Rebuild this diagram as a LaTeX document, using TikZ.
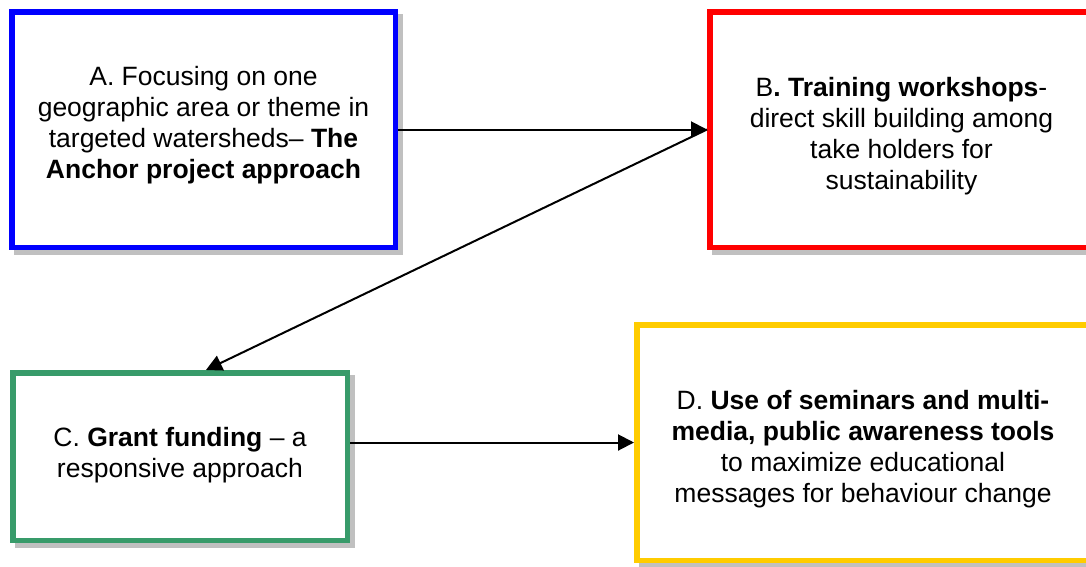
\documentclass[tikz,border=0pt]{standalone}
\usepackage{fontspec}
\setmainfont{Liberation Sans}
\usetikzlibrary{arrows.meta,backgrounds}
\definecolor{boxblue}{RGB}{0,0,255}
\definecolor{boxred}{RGB}{255,0,0}
\definecolor{boxgreen}{RGB}{56,155,106}
\definecolor{boxyellow}{RGB}{255,204,0}
\definecolor{shadowgray}{RGB}{192,192,192}
\begin{document}
\begin{tikzpicture}[x=1pt,y=-1pt,
  box/.style={draw, line width=5.5pt, fill=white, rectangle, inner sep=0pt},
  txt/.style={align=center, inner sep=0pt, font=\fontsize{26.5}{31}\selectfont},
  conn/.style={line width=2pt, -{Triangle[length=16pt,width=16pt]}},
  shadowbox/.style={fill=shadowgray}]
\useasboundingbox (0,0) rectangle (1086,566);
\node[box, draw=boxblue, minimum width=383.5pt, minimum height=235.5pt,
  label={[txt, yshift=4pt]center:{A. Focusing on one\\geographic area or theme in\\targeted watersheds– \textbf{The}\\\textbf{Anchor project approach}}}] (A) at (203.5,129.5) {};
\node[box, draw=boxred, minimum width=383.5pt, minimum height=235.5pt,
  label={[txt, yshift=-7pt]center:{B\textbf{. Training workshops}-\\direct skill building among\\take holders for\\sustainability}}] (B) at (901.5,129.5) {};
\node[box, draw=boxgreen, minimum width=334.5pt, minimum height=167.5pt,
  label={[txt, yshift=1pt]center:{C. \textbf{Grant funding} – a\\responsive approach}}] (C) at (180,456.5) {};
\node[box, draw=boxyellow, minimum width=452.5pt, minimum height=235.5pt,
  label={[txt, yshift=-7pt]center:{D. \textbf{Use of seminars and multi-}\\\textbf{media, public awareness tools}\\to maximize educational\\messages for behaviour change}}] (D) at (863,442.5) {};
\begin{scope}[on background layer]
  \foreach \n in {A,B,C,D}
    \fill[shadowbox] ([shift={(5pt,-5pt)}]\n.north west) rectangle ([shift={(5pt,-5pt)}]\n.south east);
\end{scope}
\draw[conn] (A.east) -- (B.west);
\draw[conn] (B.west) -- ([xshift=26pt]C.north);
\draw[conn] (C.east |- D.west) -- (D.west);
\end{tikzpicture}
\end{document}
